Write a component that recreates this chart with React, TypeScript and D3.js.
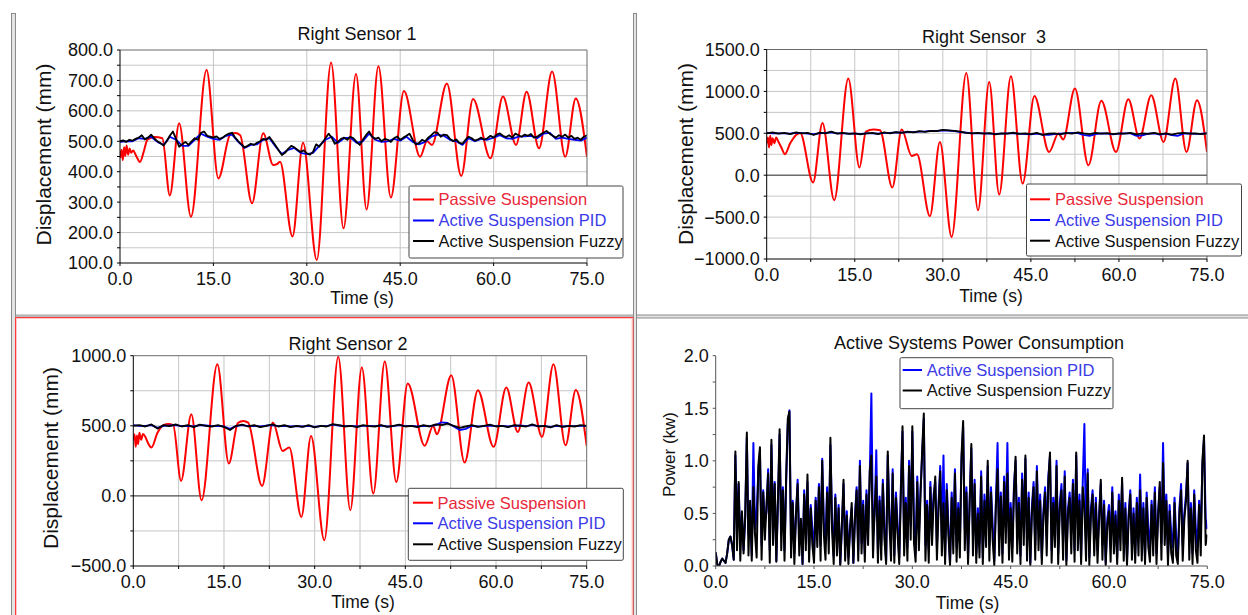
import React from "react";
import * as d3 from "d3";

const FONT = "'Liberation Sans', Arial, Helvetica, sans-serif";

// ---------- shared ----------
const timeLabels = [0, 15, 30, 45, 60, 75];
const legendLabels = ["Passive Suspension", "Active Suspension PID", "Active Suspension Fuzzy"];
const powerLegendLabels = ["Active Suspension PID", "Active Suspension Fuzzy"];

const sensor1Ticks = [100, 200, 300, 400, 500, 600, 700, 800];
const sensor3Ticks = [-1000, -500, 0, 500, 1000, 1500];
const sensor2Ticks = [-500, 0, 500, 1000];
const powerTicks = [0, 0.5, 1.0, 1.5, 2.0];

// ---------- Right Sensor 1 ----------
const sensor1Passive: [number, number][] = [
  [0, 445], [0.25, 472], [0.45, 438], [0.65, 480], [0.85, 452], [1.05, 486], [1.3, 456], [1.55, 476],
  [1.8, 462], [2.1, 470], [2.6, 452], [3.2, 432], [3.8, 465], [4.4, 505], [5.5, 514], [6.8, 510],
  [8.0, 322], [9.5, 559], [11.4, 252], [13.9, 734], [15.8, 378], [17.7, 522], [18.5, 527], [19.3, 520],
  [21.2, 296], [23.0, 526], [24.6, 422], [25.2, 425], [25.7, 433], [27.7, 187], [29.4, 495], [31.6, 110],
  [33.9, 759], [35.9, 214], [37.9, 721], [39.6, 276], [41.5, 747], [43.5, 315], [45.6, 665], [48.2, 449],
  [49.3, 500], [50.1, 488], [52.5, 690], [54.8, 386], [56.7, 639], [59.5, 444], [61.5, 647], [63.6, 488],
  [65.3, 663], [67.3, 477], [69.4, 729], [71.5, 449], [73.2, 641], [75, 449],
];
const sensor1Pid = [
  498, 500, 500, 510, 508, 515, 498, 488, 515, 505, 485, 485, 505, 525, 515, 508, 505, 518, 522, 498,
  478, 488, 490, 505, 510, 482, 458, 472, 478, 462, 458, 462, 485, 505, 515, 495, 510, 512, 495, 500,
  525, 505, 498, 500, 508, 502, 515, 498, 490, 498, 515, 522, 518, 505, 500, 488, 510, 500, 508, 505,
  512, 520, 510, 508, 515, 516, 518, 510, 525, 528, 508, 512, 508, 505, 502, 512,
];
const sensor1Fuzzy = [
  500, 503, 498, 505, 502, 508, 512, 520, 506, 512, 522, 510, 500, 494, 486, 500, 518, 532, 508, 482,
  490, 498, 488, 500, 510, 505, 528, 532, 518, 515, 512, 516, 508, 512, 520, 525, 528, 512, 500, 490,
  480, 485, 492, 488, 495, 500, 508, 505, 514, 500, 485, 470, 455, 462, 475, 485, 480, 472, 465, 470,
  460, 456, 465, 490, 482, 496, 510, 525, 512, 492, 498, 508, 512, 505, 515, 510, 498, 488, 505, 520,
  532, 515, 508, 512, 500, 508, 505, 498, 510, 516, 505, 512, 518, 525, 505, 490, 494, 505, 500, 512,
  520, 530, 528, 515, 522, 520, 508, 500, 506, 495, 492, 505, 515, 510, 502, 506, 512, 505, 510, 518,
  512, 522, 526, 518, 514, 520, 512, 525, 520, 515, 522, 518, 524, 512, 515, 522, 528, 534, 525, 518,
  512, 520, 515, 522, 512, 518, 508, 512, 505, 515, 520,
];

// ---------- Right Sensor 3 ----------
const sensor3Passive: [number, number][] = [
  [0, 380], [0.2, 450], [0.4, 330], [0.6, 470], [0.8, 360], [1.0, 440], [1.3, 380], [1.6, 450],
  [2.0, 400], [2.5, 330], [3.1, 250], [4.0, 380], [5.0, 480], [5.7, 505], [7.9, -87], [9.5, 624],
  [11.5, -298], [13.9, 1154], [15.8, 92], [16.9, 520], [18.2, 545], [19.3, 537], [21.4, -147], [23.0, 545],
  [24.7, 230], [25.6, 250], [27.8, -489], [29.5, 397], [31.5, -736], [34.0, 1221], [36.0, -418], [37.9, 1113],
  [39.6, -231], [41.6, 1181], [43.6, -100], [45.6, 946], [48.1, 278], [49.7, 497], [50.5, 426], [52.5, 1035],
  [54.8, 119], [57.0, 887], [59.5, 278], [61.6, 907], [63.5, 438], [65.5, 955], [67.6, 397], [69.6, 1154],
  [71.5, 278], [73.3, 895], [75, 278],
];
const sensor3Pid = [
  505, 500, 500, 498, 495, 505, 502, 495, 490, 500, 505, 512, 500, 498, 495, 495, 492, 500, 500, 495,
  505, 505, 510, 508, 515, 515, 520, 522, 528, 530, 535, 532, 525, 515, 508, 500, 500, 498, 495, 492,
  495, 498, 500, 495, 490, 488, 495, 485, 480, 490, 495, 500, 505, 502, 480, 470, 490, 500, 495, 488,
  495, 498, 500, 470, 475, 495, 500, 485, 495, 478, 470, 495, 500, 492, 495, 500,
];
const sensor3Fuzzy = [
  500, 510, 495, 505, 490, 512, 498, 505, 480, 508, 500, 520, 495, 505, 492, 500, 488, 498, 505, 490,
  510, 500, 515, 505, 520, 512, 525, 518, 530, 525, 540, 535, 528, 520, 505, 498, 505, 495, 502, 488,
  500, 495, 508, 492, 500, 490, 505, 482, 495, 500, 488, 505, 495, 510, 498, 490, 505, 495, 502, 490,
  500, 495, 505, 488, 498, 492, 505, 490, 500, 485, 498, 505, 495, 500, 490, 498,
];

// ---------- Right Sensor 2 ----------
const sensor2Passive: [number, number][] = [
  [0, 400], [0.2, 440], [0.4, 350], [0.6, 430], [0.8, 370], [1.0, 450], [1.3, 400], [1.6, 442],
  [2.0, 420], [2.4, 380], [3.0, 345], [4.0, 450], [5.0, 505], [5.8, 512], [6.6, 505], [7.9, 107],
  [9.6, 583], [11.3, -31], [13.9, 939], [15.8, 231], [17.3, 520], [18.2, 535], [19.0, 523], [21.3, 71],
  [23.1, 523], [24.7, 321], [25.8, 345], [27.8, -150], [29.4, 428], [31.6, -316], [33.9, 993], [35.9, -102],
  [37.8, 915], [39.7, 17], [41.6, 958], [43.5, 100], [45.4, 801], [48.2, 357], [49.6, 500], [50.2, 440],
  [52.6, 861], [54.8, 238], [57.0, 754], [59.6, 350], [61.7, 773], [63.6, 456], [65.4, 808], [67.6, 421],
  [69.5, 939], [71.5, 361], [73.2, 756], [75, 357],
];
const sensor2Pid = [
  505, 500, 500, 505, 485, 500, 502, 505, 498, 500, 495, 505, 502, 498, 500, 495, 478, 498, 505, 498,
  500, 495, 502, 505, 498, 500, 495, 498, 495, 500, 492, 498, 498, 508, 502, 498, 500, 495, 500, 500,
  498, 502, 495, 498, 505, 498, 500, 495, 500, 498, 505, 525, 520, 495, 470, 478, 500, 495, 498, 502,
  498, 500, 495, 500, 502, 498, 505, 498, 498, 492, 500, 495, 498, 498, 500, 500,
];
const sensor2Fuzzy = [
  500, 505, 495, 510, 480, 505, 498, 510, 495, 505, 490, 508, 500, 495, 505, 492, 470, 500, 508, 495,
  505, 490, 500, 510, 495, 505, 490, 500, 492, 505, 488, 500, 495, 512, 505, 495, 500, 490, 505, 498,
  495, 505, 492, 500, 508, 495, 500, 490, 505, 495, 510, 505, 515, 500, 485, 495, 505, 492, 500, 508,
  495, 500, 490, 505, 500, 495, 510, 495, 500, 488, 505, 492, 500, 495, 505, 500,
];

// ---------- Power consumption (0.25 s samples) ----------
const powerPid = [
  .13, .01, .00, .04, .07, .05, .03, .12, .25, .28, .20, .06, 1.05, .40, .78, .22, .50, .15, .45, 1.22,
  .30, .58, .10, 1.17, .35, .50, .90, 1.08, .20, .72, .40, .52, .92, .15, 1.15, .38, .80, .05, .60, 1.25,
  .35, .75, .15, .80, 1.35, 1.48, .20, .62, .12, .48, .82, .25, .40, .02, .72, .35, .80, .15, .58, .35,
  .12, .65, .30, .78, .20, 1.02, .40, .22, .75, .25, 1.15, .45, .10, .68, .22, .58, .02, .35, .78, .18,
  .52, .08, .38, .55, .03, .48, .75, .15, 1.00, .22, .62, .12, .72, .35, .85, 1.64, .28, .50, 1.10, .12,
  .66, .20, .82, .35, .05, 1.05, .48, .22, .92, .10, .70, .40, .08, .75, 1.28, .25, .65, .18, 1.00, .38,
  1.28, .42, .12, .85, .30, .72, 1.05, 1.40, .20, .62, .15, .80, .35, .68, .80, .18, .60, .95, .28, 1.05,
  .10, .78, .40, .03, .70, .30, .92, .18, .60, .22, 1.00, 1.32, .35, .75, .08, .65, 1.12, .28, .82, .12,
  .55, .22, .90, .08, .68, .35, .95, .20, .75, .40, .05, .62, 1.17, .28, .70, .12, .85, .40, 1.17, .22,
  .60, .18, .75, 1.00, .30, .65, .10, .88, .40, 1.02, .22, .70, .03, .58, .80, .20, .95, .35, .68, .08,
  .52, .75, .28, .85, 1.05, .15, .65, .35, 1.00, .12, .60, .78, .22, .90, .05, .55, .70, .30, .82, .15,
  1.05, .35, .68, .10, .80, 1.35, .22, .92, .08, .55, .72, .28, .65, .15, .50, .78, .20, .62, .03, .45,
  .58, .18, .75, .28, .52, .08, .68, .35, .80, .22, .60, .05, .50, .72, .20, .55, .12, .65, .28, .87,
  .22, .60, .08, .70, .35, .18, .62, .28, .75, .12, .52, .75, .22, 1.17, .40, .68, .10, .58, .30, .18,
  .65, .28, .08, .55, .78, .20, .50, .68, .98, .22, .60, .12, .72, .35, .18, .62, .28, .95, 1.20, .45,
  .35,
];
const powerFuzzy = [
  .13, .01, .00, .04, .07, .05, .03, .12, .25, .28, .20, .06, 1.09, .15, .80, .05, .52, .12, .48, 1.27,
  .10, .62, .05, .75, .30, .08, .95, 1.13, .06, .70, .25, .58, .88, .03, 1.20, .20, .78, .04, .65, 1.30,
  .15, .72, .05, .85, 1.40, 1.47, .08, .60, .02, .50, .78, .10, .45, .02, .68, .15, .87, .04, .55, .20,
  .03, .62, .18, .75, .05, 1.00, .30, .06, .70, .12, 1.22, .35, .02, .65, .10, .55, .01, .40, .82, .05,
  .48, .02, .35, .60, .03, .45, .72, .05, .95, .12, .58, .04, .68, .20, .90, 1.05, .08, .55, .85, .03,
  .62, .06, .78, .25, .02, 1.09, .40, .05, .88, .03, .65, .30, .02, .70, 1.33, .10, .60, .05, .95, .25,
  1.33, .22, .04, .80, .15, .68, 1.10, 1.45, .05, .58, .03, .75, .20, .62, .85, .06, .55, .90, .10, .60,
  .02, .72, .30, .01, .65, .12, .88, .04, .55, .08, 1.05, 1.38, .15, .70, .02, .60, 1.16, .10, .78, .03,
  .50, .08, .85, .02, .62, .18, 1.00, .05, .70, .25, .01, .58, .92, .10, .66, .03, .80, .22, .88, .06,
  .55, .04, .70, 1.04, .12, .60, .02, .82, .20, 1.05, .05, .65, .01, .52, .75, .06, .90, .15, .62, .02,
  .48, .70, .10, .80, 1.08, .03, .60, .18, .95, .02, .55, .72, .06, .85, .01, .50, .65, .12, .78, .04,
  1.08, .15, .62, .02, .75, .55, .05, .88, .01, .50, .68, .10, .60, .03, .45, .82, .06, .58, .01, .40,
  .52, .04, .70, .12, .48, .02, .62, .15, .84, .05, .55, .01, .45, .68, .06, .50, .03, .60, .10, .72,
  .05, .55, .02, .65, .18, .04, .58, .10, .70, .02, .48, .80, .06, .98, .20, .62, .01, .52, .12, .03,
  .60, .10, .02, .50, .72, .05, .45, .62, 1.00, .06, .55, .02, .68, .15, .03, .58, .10, 1.00, 1.24, .20,
  .30,
];

const RED = "#ff0000";
const BLUE = "#0000ff";
const BLACK = "#000000";
const RED_TEXT = "#e8283a";
const BLUE_TEXT = "#3b3be6";

type Pt = [number, number];
type SeriesDef = { pts: Pt[]; color: string; width: number; curve: d3.CurveFactory };

function uniform(vals: number[], step: number): Pt[] {
  return vals.map((v, i) => [i * step, v] as Pt);
}

type LegendDef = {
  x: number; y: number; w: number; h: number;
  rows: number[]; lx1: number; lx2: number; tx: number;
  items: { label: string; color: string; text: string }[];
};

type PanelDef = {
  id: string;
  x0: number; x1: number; y0: number; y1: number;
  yDomain: [number, number];
  yLabels: number[];
  yFmt: (v: number) => string;
  yMinorStep: number;
  yGridStep: number | null;
  xGridStep: number | null;
  xTickStep: number;
  zeroLine: boolean;
  frame: boolean;
  axisColor: string;
  title: string; titleX: number; titleY: number;
  yTitle: string; yTitleX: number; yTitleY: number; yTitleSize: number;
  xTitleX: number; xTitleY: number;
  series: SeriesDef[];
  legend: LegendDef;
};

function range(a: number, b: number, s: number) {
  const out: number[] = [];
  for (let v = a; v <= b + 1e-9; v += s) out.push(+v.toFixed(6));
  return out;
}

function Panel({ p }: { p: PanelDef }) {
  const x = d3.scaleLinear().domain([0, 75]).range([p.x0, p.x1]);
  const y = d3.scaleLinear().domain(p.yDomain).range([p.y1, p.y0]);
  const xGrid = p.xGridStep ? range(0, 75, p.xGridStep).filter((v) => v > 0 && v < 75) : [];
  const yGrid = p.yGridStep ? range(p.yDomain[0], p.yDomain[1], p.yGridStep).filter((v) => v > p.yDomain[0] && v < p.yDomain[1]) : [];
  const yMinor = range(p.yDomain[0], p.yDomain[1], p.yMinorStep);
  const xMinor = range(0, 75, p.xTickStep);
  const fmt = d3.format(".1f");
  return (
    <g fontFamily={FONT}>
      <defs>
        <clipPath id={`clip-${p.id}`}>
          <rect x={p.x0} y={p.y0} width={p.x1 - p.x0} height={p.y1 - p.y0} />
        </clipPath>
      </defs>
      {xGrid.map((v) => (
        <line key={`xg${v}`} x1={x(v)} x2={x(v)} y1={p.y0} y2={p.y1} stroke="#c6c6c6" strokeWidth={1} />
      ))}
      {yGrid.map((v) => (
        <line key={`yg${v}`} x1={p.x0} x2={p.x1} y1={y(v)} y2={y(v)} stroke="#c6c6c6" strokeWidth={1} />
      ))}
      {p.zeroLine && (
        <line x1={p.x0} x2={p.x1} y1={y(0)} y2={y(0)} stroke="#3a3a3a" strokeWidth={1} />
      )}
      <g clipPath={`url(#clip-${p.id})`}>
        {p.series.map((s, i) => {
          const gen = d3.line<Pt>().x((d) => x(d[0])).y((d) => y(d[1])).curve(s.curve);
          return (
            <path key={i} d={gen(s.pts) || ""} fill="none" stroke={s.color} strokeWidth={s.width} strokeLinejoin="round" />
          );
        })}
      </g>
      {p.frame && (
        <>
          <line x1={p.x0} x2={p.x1} y1={p.y0} y2={p.y0} stroke="#6a6a6a" strokeWidth={1} />
          <line x1={p.x1} x2={p.x1} y1={p.y0} y2={p.y1} stroke="#6a6a6a" strokeWidth={1} />
        </>
      )}
      <line x1={p.x0} x2={p.x0} y1={p.y0} y2={p.y1} stroke={p.axisColor} strokeWidth={1} />
      <line x1={p.x0} x2={p.x1} y1={p.y1} y2={p.y1} stroke={p.axisColor} strokeWidth={1} />
      {yMinor.map((v) => (
        <line key={`ym${v}`} x1={p.x0 - 3} x2={p.x0} y1={y(v)} y2={y(v)} stroke={p.axisColor} strokeWidth={1} />
      ))}
      {xMinor.map((v) => (
        <line key={`xm${v}`} x1={x(v)} x2={x(v)} y1={p.y1} y2={p.y1 + 3} stroke={p.axisColor} strokeWidth={1} />
      ))}
      {p.yLabels.map((v) => (
        <text key={`yl${v}`} x={p.x0 - 7} y={y(v)} dy="0.36em" textAnchor="end" fontSize={18} fill="#111">
          {p.yFmt(v)}
        </text>
      ))}
      {timeLabels.map((v) => (
        <text key={`xl${v}`} x={x(v)} y={p.y1 + 22} textAnchor="middle" fontSize={18} fill="#111">
          {fmt(v)}
        </text>
      ))}
      <text x={p.titleX} y={p.titleY} textAnchor="middle" fontSize={18} fill="#111" style={{ whiteSpace: "pre" }}>
        {p.title}
      </text>
      <text x={p.xTitleX} y={p.xTitleY} textAnchor="middle" fontSize={17.5} fill="#111">
        Time (s)
      </text>
      <text
        transform={`translate(${p.yTitleX},${p.yTitleY}) rotate(-90)`}
        textAnchor="middle"
        fontSize={p.yTitleSize}
        fill="#111"
      >
        {p.yTitle}
      </text>
      <g>
        <rect x={p.legend.x} y={p.legend.y} width={p.legend.w} height={p.legend.h} fill="#fff" stroke="#444" strokeWidth={1} rx={1.5} />
        {p.legend.items.map((it, i) => (
          <g key={it.label}>
            <line x1={p.legend.lx1} x2={p.legend.lx2} y1={p.legend.rows[i]} y2={p.legend.rows[i]} stroke={it.color} strokeWidth={2} />
            <text x={p.legend.tx} y={p.legend.rows[i]} dy="0.36em" fontSize={16.5} fill={it.text}>
              {it.label}
            </text>
          </g>
        ))}
      </g>
    </g>
  );
}

const threeItems = [
  { label: legendLabels[0], color: RED, text: RED_TEXT },
  { label: legendLabels[1], color: BLUE, text: BLUE_TEXT },
  { label: legendLabels[2], color: BLACK, text: "#111" },
];

const displacementSeries = (passive: Pt[], pid: Pt[], fuzzy: Pt[]): SeriesDef[] => [
  { pts: passive, color: RED, width: 2, curve: d3.curveMonotoneX },
  { pts: pid, color: BLUE, width: 1.8, curve: d3.curveLinear },
  { pts: fuzzy, color: BLACK, width: 1.8, curve: d3.curveLinear },
];

const panels: PanelDef[] = [
  {
    id: "s1", x0: 120, x1: 587, y0: 50, y1: 263,
    yDomain: [100, 800], yLabels: sensor1Ticks, yFmt: d3.format(".1f"),
    yMinorStep: 50, yGridStep: 50, xGridStep: 15, xTickStep: 15,
    zeroLine: false, frame: true, axisColor: "#000",
    title: "Right Sensor 1", titleX: 357, titleY: 40,
    yTitle: "Displacement (mm)", yTitleX: 51, yTitleY: 154.5, yTitleSize: 21,
    xTitleX: 362, xTitleY: 304,
    series: displacementSeries(sensor1Passive, uniform(sensor1Pid, 1), uniform(sensor1Fuzzy, 0.5)),
    legend: { x: 409, y: 186, w: 214, h: 72, rows: [199.5, 220.5, 241], lx1: 413, lx2: 434, tx: 438.5, items: threeItems },
  },
  {
    id: "s3", x0: 766.7, x1: 1207, y0: 49.5, y1: 259,
    yDomain: [-1000, 1500], yLabels: sensor3Ticks, yFmt: d3.format(".1f"),
    yMinorStep: 250, yGridStep: 250, xGridStep: 7.5, xTickStep: 7.5,
    zeroLine: true, frame: true, axisColor: "#000",
    title: "Right Sensor  3", titleX: 984, titleY: 42.5,
    yTitle: "Displacement (mm)", yTitleX: 693, yTitleY: 154, yTitleSize: 21,
    xTitleX: 991, xTitleY: 302,
    series: displacementSeries(sensor3Passive, uniform(sensor3Pid, 1), uniform(sensor3Fuzzy, 1)),
    legend: { x: 1026.5, y: 184, w: 215, h: 72, rows: [199.3, 220, 240.7], lx1: 1030, lx2: 1050, tx: 1055, items: threeItems },
  },
  {
    id: "s2", x0: 133.3, x1: 586.7, y0: 355.7, y1: 566,
    yDomain: [-500, 1000], yLabels: sensor2Ticks, yFmt: d3.format(".1f"),
    yMinorStep: 250, yGridStep: 250, xGridStep: 7.5, xTickStep: 7.5,
    zeroLine: true, frame: true, axisColor: "#000",
    title: "Right Sensor 2", titleX: 348, titleY: 349.5,
    yTitle: "Displacement (mm)", yTitleX: 58, yTitleY: 458, yTitleSize: 21,
    xTitleX: 363, xTitleY: 607.5,
    series: displacementSeries(sensor2Passive, uniform(sensor2Pid, 1), uniform(sensor2Fuzzy, 1)),
    legend: { x: 408.3, y: 488.3, w: 215, h: 72, rows: [502.7, 523.3, 544.3], lx1: 413, lx2: 433, tx: 437.5, items: threeItems },
  },
  {
    id: "pw", x0: 715.7, x1: 1207.3, y0: 355.7, y1: 566,
    yDomain: [0, 2], yLabels: powerTicks, yFmt: d3.format(".1f"),
    yMinorStep: 0.25, yGridStep: null, xGridStep: null, xTickStep: 7.5,
    zeroLine: false, frame: false, axisColor: "#555",
    title: "Active Systems Power Consumption", titleX: 979, titleY: 348.5,
    yTitle: "Power (kw)", yTitleX: 674.5, yTitleY: 454.5, yTitleSize: 17,
    xTitleX: 967.5, xTitleY: 608.5,
    series: [
      { pts: uniform(powerPid, 0.25), color: BLUE, width: 2, curve: d3.curveLinear },
      { pts: uniform(powerFuzzy, 0.25), color: BLACK, width: 2, curve: d3.curveLinear },
    ],
    legend: {
      x: 900, y: 357.7, w: 213, h: 51, rows: [370, 390.5], lx1: 902.7, lx2: 922, tx: 926.7,
      items: [
        { label: powerLegendLabels[0], color: BLUE, text: BLUE_TEXT },
        { label: powerLegendLabels[1], color: BLACK, text: "#111" },
      ],
    },
  },
];

export default function App() {
  return (
    <svg width={1248} height={615} style={{ position: "absolute", left: 0, top: 0, background: "#fff" }}>
      <rect x={0} y={0} width={1248} height={615} fill="#fff" />
      {/* window frames */}
      <rect x={11.5} y={13.5} width={4} height={610} fill="#e4e4e4" stroke="#8a8a8a" strokeWidth={1} />
      <rect x={633.5} y={13.5} width={3} height={610} fill="#e4e4e4" stroke="#8a8a8a" strokeWidth={1} />
      <rect x={15.5} y={315} width={618} height={2} fill="#d8d8d8" stroke="#8a8a8a" strokeWidth={0.8} />
      <rect x={636.5} y={315} width={620} height={3} fill="#e4e4e4" stroke="#8a8a8a" strokeWidth={1} />
      <rect x={15.5} y={317.5} width={617.5} height={310} fill="none" stroke="#ff3b3b" strokeWidth={1} />
      <rect x={16.5} y={318.5} width={615.5} height={310} fill="none" stroke="#ffc8c8" strokeWidth={1} />
      {panels.map((p) => (
        <Panel key={p.id} p={p} />
      ))}
    </svg>
  );
}
